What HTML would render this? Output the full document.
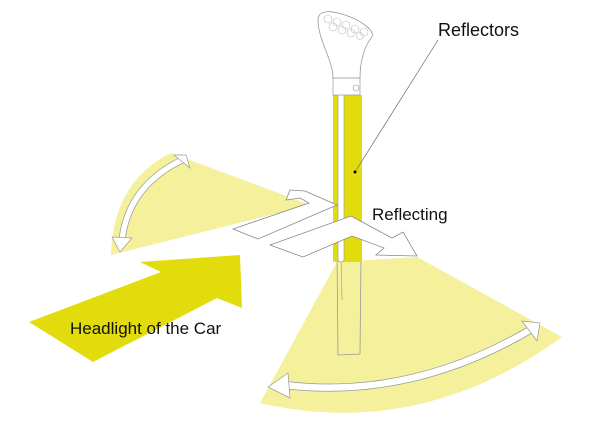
<!DOCTYPE html>
<html><head><style>
html,body{margin:0;padding:0;background:#fff;width:605px;height:426px;overflow:hidden}
svg{display:block}
text{font-family:"Liberation Sans",sans-serif;fill:#111}
</style></head><body>
<svg width="605" height="426" viewBox="0 0 605 426" xmlns="http://www.w3.org/2000/svg">
<!-- upper-left fan -->
<path d="M310,205 L171,153 C135,170 112,205 111,255 Z" fill="#f4f09c"/>
<!-- lower fan -->
<path d="M337,262 L417,257 L562,337 Q420,440 260,403 Z" fill="#f4f09c"/>
<!-- pole lower outline -->
<path d="M337,255 L338,355 L360,354 L361,255" fill="none" stroke="#999" stroke-width="0.8"/>
<line x1="341" y1="255" x2="342" y2="300" stroke="#999" stroke-width="0.6"/>
<!-- pole yellow -->
<rect x="333" y="95" width="29" height="167" fill="#e3dc0c"/>
<rect x="338" y="92" width="6" height="170" fill="#fff" stroke="#999" stroke-width="0.6" rx="3"/>
<!-- collar -->
<rect x="333" y="78" width="27" height="17" fill="#fff" stroke="#999" stroke-width="0.7"/>
<circle cx="356" cy="88" r="3" fill="#fff" stroke="#999" stroke-width="0.6"/>
<!-- head -->
<path d="M333,78 C333,60 318,40 318,20 C318,10 330,10 345,15 C360,20 375,30 372,37 C365,45 360,60 360,78 Z" fill="#fff" stroke="#999" stroke-width="0.8"/>
<g fill="none" stroke="#bbb" stroke-width="0.6">
<circle cx="328" cy="19" r="4"/><circle cx="337" cy="22" r="4"/><circle cx="346" cy="25" r="4"/><circle cx="355" cy="29" r="4"/><circle cx="364" cy="32" r="4"/>
<circle cx="333" cy="27" r="4"/><circle cx="342" cy="30" r="4"/><circle cx="351" cy="33" r="4"/><circle cx="360" cy="36" r="3.5"/>
</g>
<!-- headlight arrow -->
<polygon points="29,322 161,272 140,262 240,255 242,308 217,298 93,362" fill="#e3dc0c"/>
<text x="70" y="334" font-size="17">Headlight of the Car</text>
<!-- white reflecting arrows -->
<polygon points="233,229 309,203 300,198 286,200 290,190 305,191 337,205 258,239" fill="#fff" stroke="#888" stroke-width="0.8"/>
<polygon points="270,245 351,216 392,238 403,232 417,256 376,255 384,248 352,236 303,257" fill="#fff" stroke="#888" stroke-width="0.8"/>
<text x="372" y="220" font-size="17">Reflecting</text>
<!-- reflectors label -->
<text x="438" y="36" font-size="18">Reflectors</text>
<line x1="438" y1="40" x2="355" y2="172" stroke="#666" stroke-width="0.7"/>
<circle cx="355" cy="172" r="1.5" fill="#000"/>
<!-- curved double arrows -->
<g fill="none" stroke-linecap="butt">
<path d="M182,160 C145,178 126,205 122,240" stroke="#999" stroke-width="7"/>
<path d="M182,160 C145,178 126,205 122,240" stroke="#fff" stroke-width="5.5"/>
<path d="M285,385 Q410,400 530,330" stroke="#999" stroke-width="8"/>
<path d="M285,385 Q410,400 530,330" stroke="#fff" stroke-width="6.5"/>
</g>
<polygon points="186,155 174,155 190,168" fill="#fff" stroke="#999" stroke-width="0.7"/>
<polygon points="112,237 132,238 120,252" fill="#fff" stroke="#999" stroke-width="0.7"/>
<polygon points="288,373 268,387 290,398" fill="#fff" stroke="#999" stroke-width="0.7"/>
<polygon points="522,321 540,323 537,341" fill="#fff" stroke="#999" stroke-width="0.7"/>
</svg>
</body></html>
